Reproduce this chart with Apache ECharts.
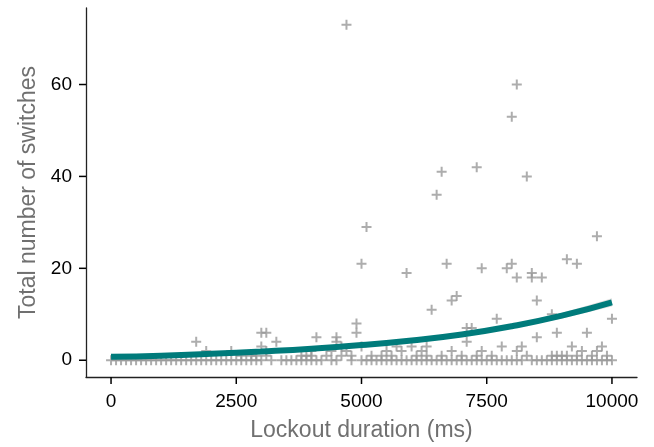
<!DOCTYPE html>
<html>
<head>
<meta charset="utf-8">
<script src="https://cdn.jsdelivr.net/npm/echarts@6/dist/echarts.min.js"></script>
<style>
  html, body { margin: 0; padding: 0; background: #fff; }
  #chart { width: 654px; height: 447px; }
</style>
</head>
<body>
<div id="chart"></div>
<script>
// tick labels
const xTicks = [0, 2500, 5000, 7500, 10000];
const yTicks = [0, 20, 40, 60];

// trials with zero switches (lockout duration, ms)
const zeroX = [0, 100, 200, 300, 400, 500, 600, 700, 800, 900, 1000, 1100, 1200, 1300, 1400, 1500,
  1600, 1700, 1800, 1900, 2000, 2100, 2200, 2300, 2400, 2500, 2600, 2700, 2800, 2900, 3000,
  3200, 3400, 3500, 3600, 3700, 3800, 3900, 4000, 4100, 4200, 4400, 4500, 4800, 5000,
  5100, 5200, 5300, 5400, 5500, 5600, 5700, 5800, 5900, 6000, 6100, 6200, 6300, 6400, 6500,
  6600, 6700, 6800, 6900, 7000, 7100, 7200, 7300, 7400, 7500, 7600, 7700, 7800, 7900, 8000,
  8100, 8200, 8400, 8500, 8600, 8700, 8800, 8900, 9000, 9100, 9200, 9300, 9400, 9500,
  9600, 9700, 9800, 9900, 10000];

// trials with one or more switches: [duration, switches]
const otherPts = [
  [2600, 1], [2800, 1], [2900, 1], [3100, 1], [3800, 1], [3900, 1], [4000, 1], [4300, 1],
  [4600, 1], [4800, 1], [5200, 1], [5400, 1], [5600, 1], [6100, 1], [6300, 1], [6600, 1],
  [7000, 1], [7300, 1], [7600, 1], [8300, 1], [8800, 1], [8900, 1], [9000, 1], [9100, 1],
  [9300, 1], [9600, 1], [9900, 1],
  [1900, 2], [2400, 2], [3100, 2], [4000, 2], [4400, 2], [4700, 2], [5500, 2], [5800, 2],
  [6200, 2], [6800, 2], [7400, 2], [8100, 2], [9400, 2], [9700, 2],
  [3000, 3], [4600, 3], [5000, 3], [5700, 3], [6000, 3], [6300, 3], [7800, 3], [8200, 3],
  [9200, 3], [9800, 3],
  [1700, 4], [3300, 4], [4500, 4], [7100, 4],
  [4100, 5], [4500, 5], [8500, 5],
  [3000, 6], [3100, 6], [4900, 6], [8900, 6], [9500, 6],
  [7100, 7], [7200, 7], [4900, 8], [7700, 9], [10000, 9], [8800, 10],
  [6400, 11], [6800, 13], [8500, 13], [6900, 14],
  [8100, 18], [8400, 18], [8600, 18], [5900, 19], [8400, 19],
  [7400, 20], [7900, 20], [5000, 21], [6700, 21], [8000, 21], [9300, 21], [9100, 22],
  [9700, 27], [5100, 29], [6500, 36], [8300, 40], [6600, 41], [7300, 42],
  [8000, 53], [8100, 60], [4700, 73]
];

// fitted curve and its confidence band
const fitX = [0, 1000, 2000, 3000, 4000, 5000, 6000, 7000, 8000, 9000, 10000];
const fitY = [0.75, 1.0, 1.4, 1.9, 2.5, 3.3, 4.3, 5.6, 7.4, 9.7, 12.6];
const fitLo = [0.6, 0.85, 1.25, 1.75, 2.35, 3.1, 4.05, 5.3, 7.0, 9.1, 11.7];
const fitHi = [0.9, 1.15, 1.55, 2.05, 2.65, 3.5, 4.55, 5.9, 7.8, 10.3, 13.5];

const plus = 'path://M4,0H6V4H10V6H6V10H4V6H0V4H4Z';
const font = '"Liberation Sans", Arial, Helvetica, sans-serif';
const axisColor = '#222';
const tickLen = 7;

// ggplot-style expanded ranges
const xRange = [-500, 10500];
const yRange = [-3.65, 76.65];

const scatterData = zeroX.map(x => [x, 0]).concat(otherPts);
const lineData = fitX.map((x, i) => [x, fitY[i]]);

const myChart = echarts.init(document.getElementById('chart'));
myChart.setOption({
  animation: false,
  grid: { left: 86, right: 17, top: 8, bottom: 68 },
  xAxis: {
    type: 'value',
    min: xRange[0],
    max: xRange[1],
    name: 'Lockout duration (ms)',
    nameLocation: 'middle',
    nameGap: 42,
    nameTextStyle: { fontFamily: font, fontSize: 23, color: '#707070' },
    axisLine: { show: true, onZero: false, lineStyle: { color: axisColor, width: 1.3 } },
    axisTick: { show: false },
    axisLabel: { fontFamily: font, fontSize: 19, color: '#000', margin: 15, customValues: xTicks, formatter: v => String(v) },
    splitLine: { show: false }
  },
  yAxis: {
    type: 'value',
    min: yRange[0],
    max: yRange[1],
    name: 'Total number of switches',
    nameLocation: 'middle',
    nameGap: 46,
    nameTextStyle: { fontFamily: font, fontSize: 23, color: '#707070' },
    axisLine: { show: true, onZero: false, lineStyle: { color: axisColor, width: 1.3 } },
    axisTick: { show: false },
    axisLabel: { fontFamily: font, fontSize: 19, color: '#000', margin: 14, customValues: yTicks, formatter: v => String(v) },
    splitLine: { show: false }
  },
  series: [
    {
      type: 'scatter',
      data: scatterData,
      symbol: plus,
      symbolSize: 10,
      itemStyle: { color: '#999999' },
      z: 2
    },
    {
      // confidence band as one polygon
      type: 'custom',
      data: [0],
      z: 3,
      silent: true,
      renderItem: function (params, api) {
        const upper = fitX.map((x, i) => api.coord([x, fitHi[i]]));
        const lower = fitX.map((x, i) => api.coord([x, fitLo[i]])).reverse();
        return {
          type: 'polygon',
          shape: { points: upper.concat(lower) },
          style: { fill: '#d9d9d9', opacity: 0.85 }
        };
      }
    },
    {
      type: 'line',
      data: lineData,
      smooth: true,
      symbol: 'none',
      lineStyle: { color: '#007b7b', width: 6 },
      z: 4
    }
  ]
});

// tick marks: positions come from the chart's own scales
const toPx = p => myChart.convertToPixel({ xAxisIndex: 0, yAxisIndex: 0 }, p);
const tickStyle = { stroke: '#000', lineWidth: 1.5 };
const tickMarks = xTicks.map(v => {
  const p = toPx([v, yRange[0]]);
  return { type: 'line', z: 100, silent: true, shape: { x1: p[0], y1: p[1], x2: p[0], y2: p[1] + tickLen }, style: tickStyle };
}).concat(yTicks.map(v => {
  const p = toPx([xRange[0], v]);
  return { type: 'line', z: 100, silent: true, shape: { x1: p[0], y1: p[1], x2: p[0] - tickLen, y2: p[1] }, style: tickStyle };
}));
myChart.setOption({ graphic: tickMarks });

window.onresize = function () {
  myChart.resize();
};
</script>
</body>
</html>
